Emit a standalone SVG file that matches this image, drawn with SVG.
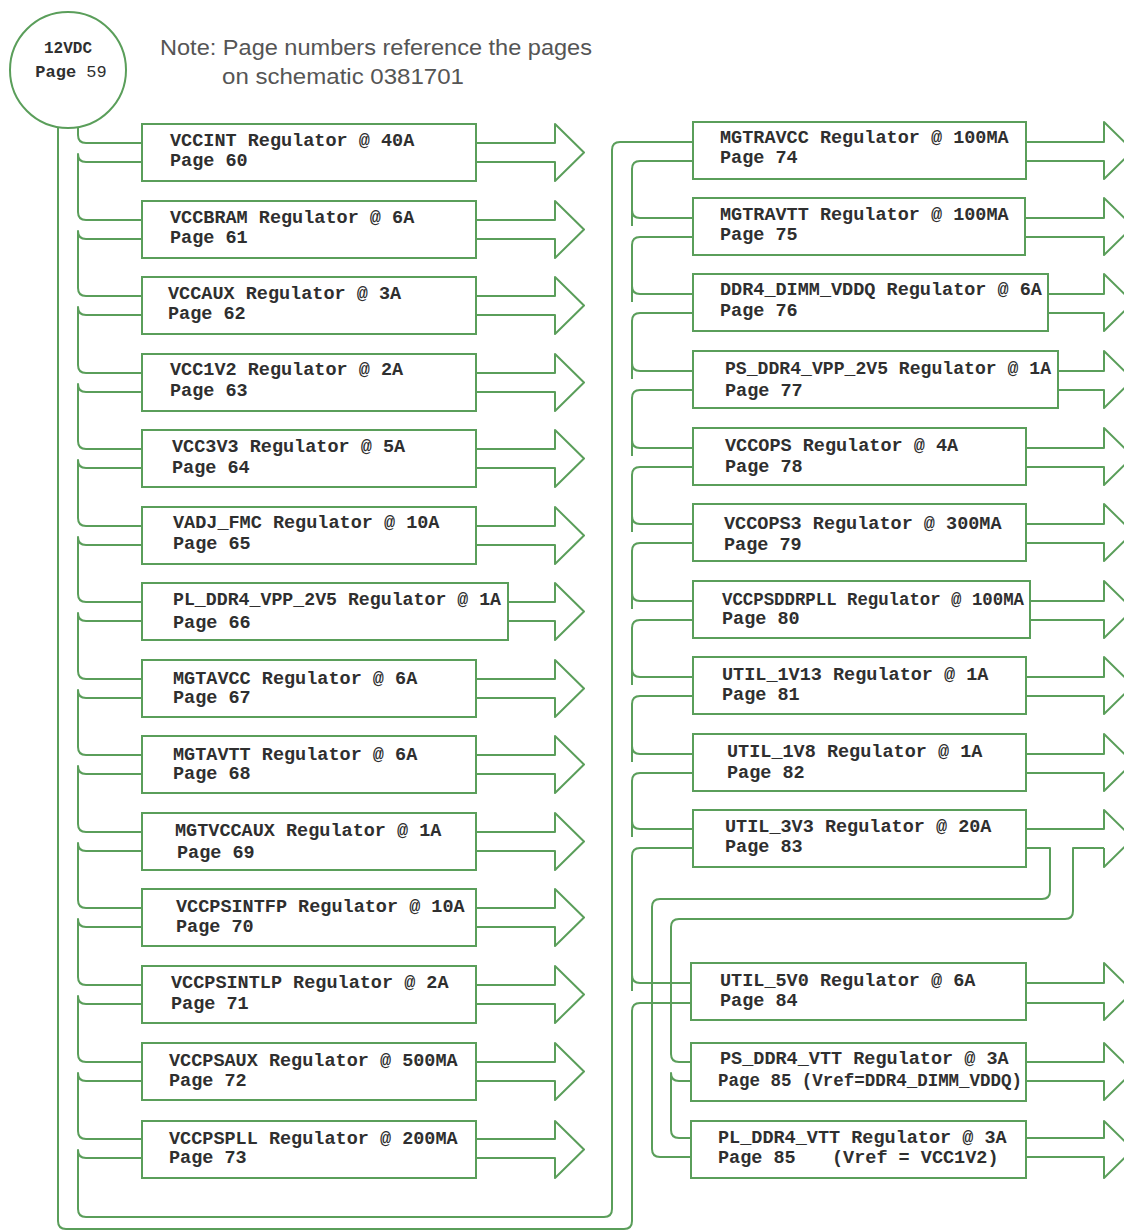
<svg xmlns="http://www.w3.org/2000/svg" width="1124" height="1231" viewBox="0 0 1124 1231">
<style>
.box{fill:#fff;stroke:#5a9e5a;stroke-width:2}
.w{fill:none;stroke:#5a9e5a;stroke-width:2;stroke-linejoin:round}
.t{font-family:"Liberation Mono",monospace;font-weight:bold;font-size:18.5px;fill:#2f2f2f}
.n{font-family:"Liberation Sans",Arial,sans-serif;font-size:22px;fill:#555}
</style>
<rect width="1124" height="1231" fill="#fff"/>
<g id="note">
<text class="n" x="160" y="55" textLength="432" lengthAdjust="spacingAndGlyphs">Note: Page numbers reference the pages</text>
<text class="n" x="222" y="84" textLength="242" lengthAdjust="spacingAndGlyphs">on schematic 0381701</text>
</g>
<g id="connectors">
<!-- left bus chain -->
<path class="w" d="M78,127 V135 Q78,143 86,143 H142"/>
<path class="w" d="M142,162 H86 Q78,162 78,154 V212 M78,212 Q78,220 86,220 H142"/>
<path class="w" d="M142,239 H86 Q78,239 78,231 V288 Q78,296 86,296 H142"/>
<path class="w" d="M142,315 H86 Q78,315 78,307 V365 Q78,373 86,373 H142"/>
<path class="w" d="M142,392 H86 Q78,392 78,384 V441 Q78,449 86,449 H142"/>
<path class="w" d="M142,468 H86 Q78,468 78,460 V518 Q78,526 86,526 H142"/>
<path class="w" d="M142,545 H86 Q78,545 78,537 V594 Q78,602 86,602 H142"/>
<path class="w" d="M142,621 H86 Q78,621 78,613 V671 Q78,679 86,679 H142"/>
<path class="w" d="M142,698 H86 Q78,698 78,690 V747 Q78,755 86,755 H142"/>
<path class="w" d="M142,774 H86 Q78,774 78,766 V824 Q78,832 86,832 H142"/>
<path class="w" d="M142,851 H86 Q78,851 78,843 V900 Q78,908 86,908 H142"/>
<path class="w" d="M142,927 H86 Q78,927 78,919 V977 Q78,985 86,985 H142"/>
<path class="w" d="M142,1004 H86 Q78,1004 78,996 V1054 Q78,1062 86,1062 H142"/>
<path class="w" d="M142,1081 H86 Q78,1081 78,1073 V1131 Q78,1139 86,1139 H142"/>
<path class="w" d="M142,1158 H86 Q78,1158 78,1150 V1209 Q78,1217 86,1217 H604 Q612,1217 612,1209 V150 Q612,142 620,142 H693"/>
<!-- outer line -->
<path class="w" d="M58,127 V1221 Q58,1229 66,1229 H624 Q632,1229 632,1221 V1011 Q632,1003 640,1003 H691"/>
<!-- right bus chain -->
<path class="w" d="M693,161 H640 Q632,161 632,169 V226 M632,210 Q632,218 640,218 H693"/>
<path class="w" d="M693,237 H640 Q632,237 632,245 V302 M632,286 Q632,294 640,294 H693"/>
<path class="w" d="M693,313 H640 Q632,313 632,321 V379 M632,363 Q632,371 640,371 H693"/>
<path class="w" d="M693,390 H640 Q632,390 632,398 V456 M632,440 Q632,448 640,448 H693"/>
<path class="w" d="M693,467 H640 Q632,467 632,475 V532 M632,516 Q632,524 640,524 H693"/>
<path class="w" d="M693,543 H640 Q632,543 632,551 V609 M632,593 Q632,601 640,601 H693"/>
<path class="w" d="M693,620 H640 Q632,620 632,628 V685 M632,669 Q632,677 640,677 H693"/>
<path class="w" d="M693,696 H640 Q632,696 632,704 V762 M632,746 Q632,754 640,754 H693"/>
<path class="w" d="M693,773 H640 Q632,773 632,781 V837 M632,821 Q632,829 640,829 H693"/>
<path class="w" d="M693,848 H640 Q632,848 632,856 V991 M632,975 Q632,983 640,983 H691"/>
<!-- UTIL_3V3 loops -->
<path class="w" d="M1026,848 H1050 V891 Q1050,899 1042,899 H660 Q652,899 652,907 V1149 Q652,1157 660,1157 H691"/>
<path class="w" d="M1104,848 H1073 V911 Q1073,919 1065,919 H679 Q671,919 671,927 V1054 Q671,1062 679,1062 H691"/>
<path class="w" d="M691,1081 H679 Q671,1081 671,1073 V1130 Q671,1138 679,1138 H691"/>
<!-- left outputs -->
<path class="w" d="M476,143 H555 V124 L584,152.5 L555,181 V162 H476"/>
<path class="w" d="M476,220 H555 V201 L584,229.5 L555,258 V239 H476"/>
<path class="w" d="M476,296 H555 V277 L584,305.5 L555,334 V315 H476"/>
<path class="w" d="M476,373 H555 V354 L584,382.5 L555,411 V392 H476"/>
<path class="w" d="M476,449 H555 V430 L584,458.5 L555,487 V468 H476"/>
<path class="w" d="M476,526 H555 V507 L584,535.5 L555,564 V545 H476"/>
<path class="w" d="M508,602 H555 V583 L584,611.5 L555,640 V621 H508"/>
<path class="w" d="M476,679 H555 V660 L584,688.5 L555,717 V698 H476"/>
<path class="w" d="M476,755 H555 V736 L584,764.5 L555,793 V774 H476"/>
<path class="w" d="M476,832 H555 V813 L584,841.5 L555,870 V851 H476"/>
<path class="w" d="M476,908 H555 V889 L584,917.5 L555,946 V927 H476"/>
<path class="w" d="M476,985 H555 V966 L584,994.5 L555,1023 V1004 H476"/>
<path class="w" d="M476,1062 H555 V1043 L584,1071.5 L555,1100 V1081 H476"/>
<path class="w" d="M476,1139 H555 V1121 L584,1149.5 L555,1178 V1158 H476"/>
<!-- right outputs -->
<path class="w" d="M1026,142 H1104 V122 L1133,150.5 L1104,179 V161 H1026"/>
<path class="w" d="M1025,218 H1104 V198 L1133,226.5 L1104,255 V237 H1025"/>
<path class="w" d="M1048,294 H1104 V274 L1133,302.5 L1104,331 V313 H1048"/>
<path class="w" d="M1058,371 H1104 V351 L1133,379.5 L1104,408 V390 H1058"/>
<path class="w" d="M1026,448 H1104 V428 L1133,456.5 L1104,485 V467 H1026"/>
<path class="w" d="M1026,524 H1104 V504 L1133,532.5 L1104,561 V543 H1026"/>
<path class="w" d="M1030,601 H1104 V581 L1133,609.5 L1104,638 V620 H1030"/>
<path class="w" d="M1026,677 H1104 V657 L1133,685.5 L1104,714 V696 H1026"/>
<path class="w" d="M1026,754 H1104 V734 L1133,762.5 L1104,791 V773 H1026"/>
<path class="w" d="M1026,829 H1104 V810 L1133,838.5 L1104,867 V848"/>
<path class="w" d="M1026,983 H1104 V963 L1133,991.5 L1104,1020 V1003 H1026"/>
<path class="w" d="M1026,1062 H1104 V1043 L1133,1071.5 L1104,1100 V1081 H1026"/>
<path class="w" d="M1026,1138 H1104 V1121 L1133,1149.5 L1104,1178 V1157 H1026"/>
</g>
<g id="n12vdc">
<circle cx="68" cy="70" r="58" fill="#fff" stroke="#5a9e5a" stroke-width="2"/>
<text class="t" style="font-size:16px" x="68" y="53" text-anchor="middle">12VDC</text>
<text class="t" style="font-size:17px" x="71" y="77" text-anchor="middle">Page <tspan font-weight="normal">59</tspan></text>
</g>
<g id="vccint"><rect class="box" x="142" y="124" width="334" height="57"/><text class="t" x="170" y="146">VCCINT Regulator @ 40A</text><text class="t" x="170" y="166">Page 60</text></g>
<g id="vccbram"><rect class="box" x="142" y="201" width="334" height="57"/><text class="t" x="170" y="223">VCCBRAM Regulator @ 6A</text><text class="t" x="170" y="243">Page 61</text></g>
<g id="vccaux"><rect class="box" x="142" y="277" width="334" height="57"/><text class="t" x="168" y="299">VCCAUX Regulator @ 3A</text><text class="t" x="168" y="319">Page 62</text></g>
<g id="vcc1v2"><rect class="box" x="142" y="354" width="334" height="57"/><text class="t" x="170" y="375">VCC1V2 Regulator @ 2A</text><text class="t" x="170" y="396">Page 63</text></g>
<g id="vcc3v3"><rect class="box" x="142" y="430" width="334" height="57"/><text class="t" x="172" y="452">VCC3V3 Regulator @ 5A</text><text class="t" x="172" y="473">Page 64</text></g>
<g id="vadj_fmc"><rect class="box" x="142" y="507" width="334" height="57"/><text class="t" x="173" y="528">VADJ_FMC Regulator @ 10A</text><text class="t" x="173" y="549">Page 65</text></g>
<g id="pl_ddr4_vpp"><rect class="box" x="142" y="583" width="366" height="57"/><text class="t" x="173" y="605" textLength="328" lengthAdjust="spacingAndGlyphs">PL_DDR4_VPP_2V5 Regulator @ 1A</text><text class="t" x="173" y="628">Page 66</text></g>
<g id="mgtavcc"><rect class="box" x="142" y="660" width="334" height="57"/><text class="t" x="173" y="684">MGTAVCC Regulator @ 6A</text><text class="t" x="173" y="703">Page 67</text></g>
<g id="mgtavtt"><rect class="box" x="142" y="736" width="334" height="57"/><text class="t" x="173" y="760">MGTAVTT Regulator @ 6A</text><text class="t" x="173" y="779">Page 68</text></g>
<g id="mgtvccaux"><rect class="box" x="142" y="813" width="334" height="57"/><text class="t" x="175" y="836">MGTVCCAUX Regulator @ 1A</text><text class="t" x="177" y="858">Page 69</text></g>
<g id="vccpsintfp"><rect class="box" x="142" y="889" width="334" height="57"/><text class="t" x="176" y="912">VCCPSINTFP Regulator @ 10A</text><text class="t" x="176" y="932">Page 70</text></g>
<g id="vccpsintlp"><rect class="box" x="142" y="966" width="334" height="57"/><text class="t" x="171" y="988">VCCPSINTLP Regulator @ 2A</text><text class="t" x="171" y="1009">Page 71</text></g>
<g id="vccpsaux"><rect class="box" x="142" y="1043" width="334" height="57"/><text class="t" x="169" y="1066">VCCPSAUX Regulator @ 500MA</text><text class="t" x="169" y="1086">Page 72</text></g>
<g id="vccpspll"><rect class="box" x="142" y="1121" width="334" height="57"/><text class="t" x="169" y="1144">VCCPSPLL Regulator @ 200MA</text><text class="t" x="169" y="1163">Page 73</text></g>
<g id="mgtravcc"><rect class="box" x="693" y="122" width="333" height="57"/><text class="t" x="720" y="143">MGTRAVCC Regulator @ 100MA</text><text class="t" x="720" y="163">Page 74</text></g>
<g id="mgtravtt"><rect class="box" x="693" y="198" width="332" height="57"/><text class="t" x="720" y="220">MGTRAVTT Regulator @ 100MA</text><text class="t" x="720" y="240">Page 75</text></g>
<g id="ddr4_dimm_vddq"><rect class="box" x="693" y="274" width="355" height="57"/><text class="t" x="720" y="295">DDR4_DIMM_VDDQ Regulator @ 6A</text><text class="t" x="720" y="316">Page 76</text></g>
<g id="ps_ddr4_vpp"><rect class="box" x="693" y="351" width="365" height="57"/><text class="t" x="725" y="374" textLength="326" lengthAdjust="spacingAndGlyphs">PS_DDR4_VPP_2V5 Regulator @ 1A</text><text class="t" x="725" y="396">Page 77</text></g>
<g id="vccops"><rect class="box" x="693" y="428" width="333" height="57"/><text class="t" x="725" y="451">VCCOPS Regulator @ 4A</text><text class="t" x="725" y="472">Page 78</text></g>
<g id="vccops3"><rect class="box" x="693" y="504" width="333" height="57"/><text class="t" x="724" y="529">VCCOPS3 Regulator @ 300MA</text><text class="t" x="724" y="550">Page 79</text></g>
<g id="vccpsddrpll"><rect class="box" x="693" y="581" width="337" height="57"/><text class="t" x="722" y="605" textLength="302" lengthAdjust="spacingAndGlyphs">VCCPSDDRPLL Regulator @ 100MA</text><text class="t" x="722" y="624">Page 80</text></g>
<g id="util_1v13"><rect class="box" x="693" y="657" width="333" height="57"/><text class="t" x="722" y="680">UTIL_1V13 Regulator @ 1A</text><text class="t" x="722" y="700">Page 81</text></g>
<g id="util_1v8"><rect class="box" x="693" y="734" width="333" height="57"/><text class="t" x="727" y="757">UTIL_1V8 Regulator @ 1A</text><text class="t" x="727" y="778">Page 82</text></g>
<g id="util_3v3"><rect class="box" x="693" y="810" width="333" height="57"/><text class="t" x="725" y="832">UTIL_3V3 Regulator @ 20A</text><text class="t" x="725" y="852">Page 83</text></g>
<g id="util_5v0"><rect class="box" x="691" y="963" width="335" height="57"/><text class="t" x="720" y="986">UTIL_5V0 Regulator @ 6A</text><text class="t" x="720" y="1006">Page 84</text></g>
<g id="ps_ddr4_vtt"><rect class="box" x="691" y="1043" width="335" height="58"/><text class="t" x="720" y="1064">PS_DDR4_VTT Regulator @ 3A</text><text class="t" x="718" y="1086" textLength="304" lengthAdjust="spacingAndGlyphs">Page 85 (Vref=DDR4_DIMM_VDDQ)</text></g>
<g id="pl_ddr4_vtt"><rect class="box" x="691" y="1121" width="335" height="57"/><text class="t" x="718" y="1143">PL_DDR4_VTT Regulator @ 3A</text><text class="t" x="718" y="1163">Page 85<tspan x="832">(Vref = VCC1V2)</tspan></text></g>
</svg>
